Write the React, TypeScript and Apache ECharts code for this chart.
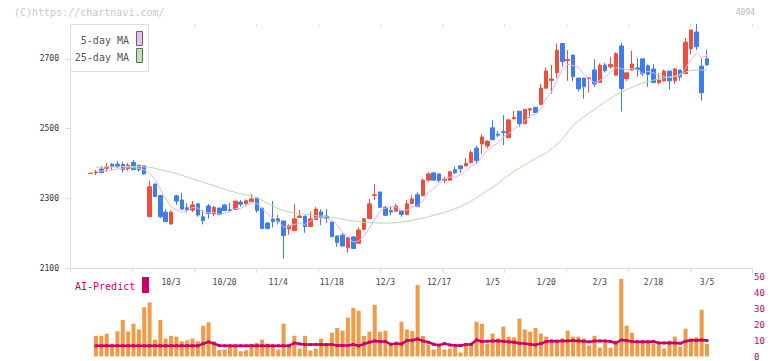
import React, { useEffect, useRef } from "react";
import * as echarts from "echarts";

// Trading days (first one has no volume / MA)
const dates = ["9/10","9/11","9/12","9/16","9/17","9/18","9/19","9/22","9/24","9/25","9/26","9/29","9/30","10/1","10/2","10/3","10/6","10/7","10/8","10/9","10/10","10/14","10/15","10/16","10/17","10/20","10/21","10/22","10/23","10/24","10/27","10/28","10/29","10/30","10/31","11/4","11/5","11/6","11/7","11/10","11/11","11/12","11/13","11/14","11/17","11/18","11/19","11/20","11/21","11/25","11/26","11/27","11/28","12/1","12/2","12/3","12/4","12/5","12/8","12/9","12/10","12/11","12/12","12/15","12/16","12/17","12/18","12/19","12/22","12/23","12/24","12/25","12/26","12/29","12/30","1/5","1/6","1/7","1/8","1/9","1/13","1/14","1/15","1/16","1/19","1/20","1/21","1/22","1/23","1/26","1/27","1/28","1/29","1/30","2/2","2/3","2/4","2/5","2/6","2/9","2/10","2/12","2/13","2/16","2/17","2/18","2/19","2/20","2/24","2/25","2/26","2/27","3/2","3/3","3/4","3/5"];

const labeledDates = ["10/3","10/20","11/4","11/18","12/3","12/17","1/5","1/20","2/3","2/18","3/5"];

const opens = [2371,2373,2384,2386,2398,2398,2397,2385,2403,2395,2393,2247,2341,2308,2260,2226,2307,2295,2273,2266,2284,2247,2278,2255,2272,2281,2267,2268,2289,2285,2290,2301,2272,2229,2241,2241,2235,2212,2207,2245,2249,2219,2239,2261,2249,2232,2192,2194,2158,2189,2171,2211,2242,2308,2318,2274,2265,2263,2264,2253,2285,2310,2308,2352,2373,2370,2352,2352,2382,2393,2393,2402,2444,2456,2450,2502,2484,2491,2474,2528,2550,2514,2553,2561,2569,2616,2638,2660,2744,2695,2711,2645,2645,2643,2668,2632,2682,2677,2653,2737,2643,2668,2674,2700,2680,2671,2632,2637,2665,2637,2668,2658,2729,2777,2679,2700];
const closes = [2372,2375,2374,2390,2391,2391,2382,2395,2382,2382,2370,2333,2305,2247,2233,2260,2292,2269,2267,2281,2252,2236,2256,2274,2253,2265,2264,2292,2283,2293,2298,2265,2213,2213,2233,2234,2193,2222,2241,2249,2219,2241,2269,2244,2242,2190,2173,2163,2187,2156,2209,2241,2284,2310,2274,2251,2261,2278,2254,2284,2298,2276,2352,2370,2352,2351,2355,2376,2373,2385,2400,2431,2408,2476,2464,2468,2481,2489,2525,2532,2514,2555,2557,2546,2616,2665,2642,2725,2692,2698,2649,2614,2620,2646,2628,2682,2666,2684,2715,2615,2660,2685,2670,2657,2655,2632,2639,2665,2637,2671,2648,2748,2783,2735,2603,2683];
const lows = [2371,2367,2372,2376,2380,2386,2374,2379,2381,2376,2367,2247,2303,2243,2233,2226,2281,2266,2260,2260,2247,2225,2242,2249,2253,2263,2262,2266,2276,2279,2290,2259,2213,2211,2216,2225,2126,2195,2207,2245,2201,2219,2239,2223,2229,2190,2161,2163,2144,2154,2171,2208,2242,2295,2274,2251,2251,2263,2247,2253,2285,2276,2305,2348,2352,2345,2344,2352,2370,2373,2391,2402,2400,2427,2443,2468,2475,2453,2474,2526,2505,2514,2530,2546,2569,2613,2600,2644,2678,2637,2636,2606,2586,2603,2619,2632,2661,2672,2653,2549,2636,2666,2649,2650,2620,2630,2627,2635,2612,2629,2637,2658,2712,2725,2580,2679];
const highs = [2372,2381,2393,2401,2401,2407,2405,2401,2410,2395,2393,2351,2341,2309,2269,2266,2310,2316,2286,2292,2284,2266,2284,2278,2272,2283,2286,2292,2295,2297,2312,2301,2272,2231,2292,2252,2235,2225,2284,2266,2249,2262,2275,2269,2269,2232,2192,2200,2187,2192,2216,2244,2298,2341,2318,2278,2278,2284,2264,2295,2309,2318,2357,2375,2373,2370,2362,2378,2391,2393,2415,2437,2451,2483,2466,2525,2493,2539,2525,2551,2550,2555,2557,2561,2628,2675,2683,2744,2744,2725,2711,2645,2645,2646,2699,2687,2688,2705,2719,2746,2660,2723,2702,2700,2684,2685,2659,2669,2665,2674,2668,2760,2783,2800,2701,2726];

const ma5 = [null,2377,2378,2380,2382,2384,2386,2390,2388,2386,2382,2372,2354,2327,2298,2276,2267,2260,2264,2274,2272,2261,2258,2260,2254,2257,2262,2270,2271,2279,2286,2286,2270,2256,2244,2232,2217,2219,2225,2228,2225,2234,2244,2244,2243,2237,2224,2202,2191,2174,2178,2191,2215,2240,2264,2272,2276,2275,2264,2266,2275,2278,2293,2316,2330,2340,2356,2361,2361,2368,2378,2393,2399,2420,2436,2449,2459,2476,2485,2499,2508,2523,2537,2541,2558,2588,2605,2639,2668,2684,2681,2676,2655,2645,2631,2638,2648,2661,2675,2672,2668,2672,2669,2657,2665,2660,2651,2650,2646,2649,2652,2674,2697,2717,2703,2710];
const ma25 = [null,2389,2389,2390,2390,2390,2391,2391,2391,2391,2390,2389,2386,2382,2378,2375,2371,2366,2361,2356,2351,2346,2341,2336,2331,2326,2321,2317,2313,2310,2306,2301,2294,2286,2278,2270,2265,2261,2258,2256,2254,2252,2250,2249,2247,2245,2243,2240,2237,2235,2233,2231,2230,2230,2229,2229,2229,2230,2232,2234,2237,2240,2243,2247,2251,2255,2259,2265,2270,2276,2284,2292,2302,2312,2322,2332,2343,2355,2366,2377,2387,2396,2405,2414,2422,2430,2442,2455,2470,2490,2508,2522,2533,2544,2555,2566,2576,2586,2596,2605,2612,2618,2625,2631,2635,2639,2642,2645,2648,2651,2656,2662,2667,2668,2668,2668];

const volume = [null,13,13,14.4,6.5,15.8,23,15.8,20.6,17,31,34,10.6,23,11.3,13,12.5,9.6,10.2,11.3,9.6,19.4,21.5,9.6,4,4.4,6.5,6,3.3,4,8,8.5,10.6,8,6.5,4.4,20.6,7.5,13,5,13,3.8,5,11.3,7,15,18,16.3,24.4,30.6,28.8,13,15.6,32.5,15.6,16.3,7,9.4,21.9,17,16,45,13,7.5,4.4,6,4.4,5,6,2.5,8.5,8.5,21.9,20.6,8,14.4,11.3,18.8,12.5,12,23.8,17,15.6,18,14.4,12.5,10,10.6,11.3,16.3,12.5,12.5,11.3,7,13,5.6,10,5.6,10,48.8,19.4,15,10,10,10,8,7.5,5,10,12.5,6.3,17.5,11.3,12,29.4,8];
const aiPredict = [null,6.7,6.7,6.7,6.7,6.7,6.7,6.7,6.7,6.7,6.7,6.7,6.7,6.7,6.7,6.7,6.7,6.7,6.7,6.7,6.7,8.1,9.2,8.1,6.9,6.7,6.7,6.7,6.7,6.7,6.7,6.7,6.7,6.7,6.7,6.7,6.7,6.7,8.5,7.9,7.5,7.5,7.5,7.5,7.5,7.5,6.9,6.9,6.9,7.5,6.7,7.9,9,9.8,9.4,9.4,7.7,8.1,7.9,10,10.2,11,9.8,9,7.7,7.1,8.1,7.3,6.9,6.9,7.5,7.7,10.4,9.4,9.6,9.8,9.8,9.6,9.2,9,8.3,8.1,7.7,7.3,8.1,9.4,9.8,9.6,9.8,9.8,10,9.8,9.6,9.2,9.8,9.8,9.8,9.4,8.5,10.4,10,9.4,9.2,9.2,9.2,9.4,8.5,8.5,8.5,8.5,8.3,9.6,10.2,10.2,10.4,10];

const priceTicks = [2100, 2300, 2500, 2700];
const volumeTicks = [0, 10, 20, 30, 40, 50];

const RED = "#ef4e3c";
const BLUE = "#3f7cf0";
const MONO = "'DejaVu Sans Mono', monospace";

export default function App() {
  const ref = useRef<HTMLDivElement>(null);
  useEffect(() => {
    const chart = echarts.init(ref.current!, null, { renderer: "svg" });
    const candles = dates.map((_, i) => [opens[i], closes[i], lows[i], highs[i]]);
    chart.setOption({
      animation: false,
      backgroundColor: "#ffffff",
      grid: [
        { left: 87.96, top: 24, width: 621.76, height: 244 },
        { left: 70, top: 24, width: 682, height: 244 },
        { left: 87.96, top: 277, width: 621.76, height: 80 },
      ],
      xAxis: [
        {
          type: "category", gridIndex: 0, data: dates, boundaryGap: true,
          axisLine: { show: false }, axisTick: { show: false }, splitLine: { show: false },
          axisLabel: {
            interval: (_i: number, v: string) => labeledDates.includes(v),
            fontFamily: MONO, fontSize: 8, color: "#444", margin: 10,
          },
        },
        {
          type: "value", gridIndex: 1, min: 0, max: 11, interval: 1,
          axisLine: { show: true, lineStyle: { color: "#dddddd", width: 1 } },
          axisTick: { show: true, length: 5, lineStyle: { color: "#dddddd" } },
          axisLabel: { show: false }, splitLine: { show: false },
        },
        {
          type: "value", gridIndex: 1, min: 0, max: 11, interval: 1,
          axisLine: { show: false },
          axisTick: { show: true, inside: true, length: 3, lineStyle: { color: "#dddddd" } },
          axisLabel: { show: false }, splitLine: { show: false },
        },
        { type: "category", gridIndex: 2, data: dates, boundaryGap: true, show: false },
      ],
      yAxis: [
        { type: "value", gridIndex: 0, min: 2100, max: 2800, show: false, splitLine: { show: false } },
        {
          type: "value", gridIndex: 1, min: 2100, max: 2800, position: "left",
          axisLine: { show: true, lineStyle: { color: "#dddddd" } },
          axisTick: { show: true, length: 5, customValues: priceTicks, lineStyle: { color: "#dddddd" } },
          axisLabel: {
            customValues: priceTicks, fontFamily: MONO, fontSize: 8, color: "#333", margin: 11,
            formatter: (v: number) => String(v),
          },
          splitLine: { show: false },
        },
        {
          type: "value", gridIndex: 2, min: 0, max: 50, position: "right", offset: 42.28,
          axisLine: { show: false }, axisTick: { show: false }, splitLine: { show: false },
          axisLabel: {
            customValues: volumeTicks, fontFamily: MONO, fontSize: 9, color: "#c0006a", margin: 2,
            formatter: (v: number) => String(v),
          },
        },
      ],
      series: [
        {
          type: "line", name: "25-day MA", xAxisIndex: 0, yAxisIndex: 0, data: ma25,
          showSymbol: false, lineStyle: { color: "#b2dba6", width: 1 },
        },
        {
          type: "line", name: "5-day MA", xAxisIndex: 0, yAxisIndex: 0, data: ma5,
          showSymbol: false, lineStyle: { color: "#e8b2e8", width: 1 },
        },
        {
          type: "candlestick", xAxisIndex: 0, yAxisIndex: 0, data: candles, barWidth: 4,
          itemStyle: { color: RED, color0: BLUE, borderColor: RED, borderColor0: BLUE, borderWidth: 1 },
        },
        {
          type: "bar", xAxisIndex: 3, yAxisIndex: 2, data: volume, barWidth: 4,
          itemStyle: { color: "#f29a45" },
        },
        {
          type: "line", xAxisIndex: 3, yAxisIndex: 2, data: aiPredict,
          symbol: "rect", symbolSize: 3, showSymbol: true,
          itemStyle: { color: "#cc0066" },
          lineStyle: { color: "#cc0066", width: 2.5 },
        },
      ],
      graphic: [
        {
          type: "text", left: 14, top: 7, z: 100,
          style: { text: "(C)https://chartnavi.com/", fill: "#c8c8c8", font: `10px ${MONO}` },
        },
        {
          type: "text", right: 17, top: 8, z: 100,
          style: { text: "4094", fill: "#b8b8b8", font: `8px ${MONO}` },
        },
        {
          type: "rect", z: 100, shape: { x: 70.5, y: 24.5, width: 78, height: 47 },
          style: { fill: "#ffffff", stroke: "#dddddd", lineWidth: 1 },
        },
        {
          type: "text", z: 101,
          style: { text: "5-day MA", x: 129, y: 40, align: "right", verticalAlign: "middle", textAlign: "right", textVerticalAlign: "middle", fill: "#555", font: `10px ${MONO}` },
        },
        {
          type: "text", z: 101,
          style: { text: "25-day MA", x: 129, y: 57, align: "right", verticalAlign: "middle", textAlign: "right", textVerticalAlign: "middle", fill: "#555", font: `10px ${MONO}` },
        },
        {
          type: "rect", z: 101, shape: { x: 136.5, y: 31.5, width: 6, height: 14 },
          style: { fill: "#ecbdec", stroke: "#666", lineWidth: 1 },
        },
        {
          type: "rect", z: 101, shape: { x: 136.5, y: 48.5, width: 6, height: 14 },
          style: { fill: "#bfe0b3", stroke: "#666", lineWidth: 1 },
        },
        {
          type: "text", z: 101,
          style: { text: "AI-Predict", x: 75, y: 286, verticalAlign: "middle", textVerticalAlign: "middle", fill: "#cc0066", font: `10px ${MONO}` },
        },
        {
          type: "rect", z: 101, shape: { x: 142, y: 277, width: 7, height: 16 },
          style: { fill: "#cc0066" },
        },
      ],
    });
    return () => chart.dispose();
  }, []);
  return (
    <div
      ref={ref}
      style={{ position: "fixed", left: 0, top: 0, width: 772, height: 361, background: "#fff" }}
    />
  );
}
